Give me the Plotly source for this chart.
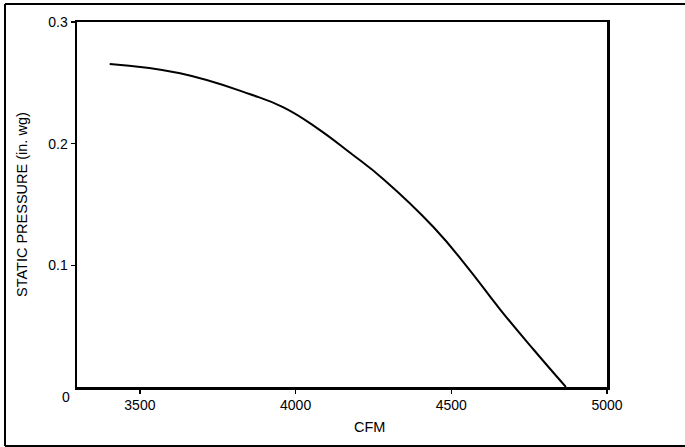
import plotly.graph_objects as go

cfm = [3403, 3629, 3854, 3961, 4069, 4176, 4283, 4444, 4552, 4659, 4766, 4868]
pressure = [0.2655, 0.2578, 0.2406, 0.2298, 0.2128, 0.1923, 0.1706, 0.1311, 0.0983, 0.0630, 0.0302, 0.0]

x_ticks = [3500, 4000, 4500, 5000]
x_tick_labels = ["3500", "4000", "4500", "5000"]
y_ticks = [0.1, 0.2, 0.3]
y_tick_labels = ["0.1", "0.2", "0.3"]

W, H = 685, 447
L, R, T, B = 77, 607, 22, 387

def px(x):
    return (x - L) / (R - L)

def py(y):
    return (B - y) / (B - T)

FONT = "Liberation Sans, Arial, Helvetica, sans-serif"

fig = go.Figure()
fig.add_trace(go.Scatter(x=cfm, y=pressure, mode="lines",
                         line=dict(color="black", width=2, shape="spline", smoothing=1.3),
                         hoverinfo="skip", showlegend=False))

fig.update_layout(
    width=W, height=H,
    margin=dict(l=L, r=W - R, t=T, b=H - B),
    paper_bgcolor="white", plot_bgcolor="white",
    font=dict(family=FONT, size=14, color="black"),
    showlegend=False,
    xaxis=dict(range=[3298, 5000], tickvals=x_ticks, ticktext=x_tick_labels,
               showgrid=False, zeroline=False, showline=True, linecolor="black",
               linewidth=2.5, mirror=True, ticks="outside", ticklen=4, tickwidth=1.2,
               tickcolor="black", tickfont=dict(size=14, family=FONT)),
    yaxis=dict(range=[0, 0.3], tickvals=y_ticks, ticktext=y_tick_labels,
               showgrid=False, zeroline=False, showline=True, linecolor="black",
               linewidth=2.5, mirror=True, ticks="outside", ticklen=4, tickwidth=1.2,
               tickcolor="black", tickfont=dict(size=14, family=FONT)),
)

# outer frame (top, left, bottom)
frame = dict(color="black", width=2)
fig.add_shape(type="line", xref="paper", yref="paper", x0=px(5), x1=px(700), y0=py(4), y1=py(4), line=frame)
fig.add_shape(type="line", xref="paper", yref="paper", x0=px(5), x1=px(5), y0=py(4), y1=py(446), line=frame)
fig.add_shape(type="line", xref="paper", yref="paper", x0=px(5), x1=px(700), y0=py(446), y1=py(446), line=frame)

fig.add_annotation(text="0", xref="paper", yref="paper", x=px(66), y=py(397),
                   showarrow=False, xanchor="center", yanchor="middle",
                   font=dict(size=14, family=FONT, color="black"))
fig.add_annotation(text="CFM", xref="paper", yref="paper", x=px(369), y=py(427),
                   showarrow=False, xanchor="center", yanchor="middle",
                   font=dict(size=14.5, family=FONT, color="black"))
fig.add_annotation(text="STATIC PRESSURE (in. wg)", xref="paper", yref="paper",
                   x=px(22), y=py(205), textangle=-90,
                   showarrow=False, xanchor="center", yanchor="middle",
                   font=dict(size=14.5, family=FONT, color="black"))

fig.write_html("out.html",
               config={"displayModeBar": False, "staticPlot": True},
               post_script="document.body.style.margin='0';document.body.style.overflow='hidden';")
